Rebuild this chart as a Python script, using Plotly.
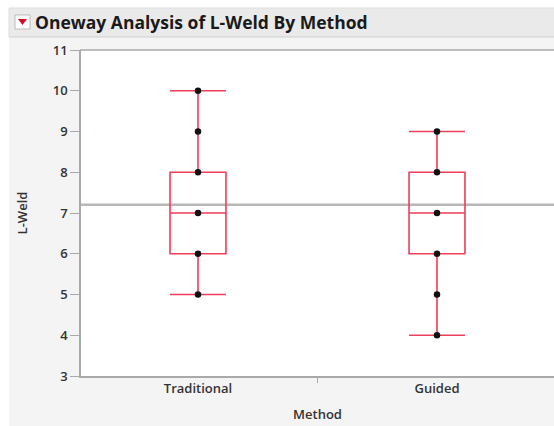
import plotly.graph_objects as go

# Oneway analysis: L-Weld by welding method
methods = ["Traditional", "Guided"]
trad_points = [5, 6, 7, 8, 9, 10]
guided_points = [4, 5, 6, 7, 8, 9]
# box statistics per method: lower fence, q1, median, q3, upper fence
lower_fence = [5, 4]
q1 = [6, 6]
median = [7, 7]
q3 = [8, 8]
upper_fence = [10, 9]
grand_mean = 7.2

W, H = 554, 426
L, R, T, B = 81, 0, 50, 50
PW, PH = W - L - R, H - T - B


def px(x):
    return (x - L) / PW


def py(y):
    return (H - B - y) / PH


BOX_RED = "#ee3e5a"
AXIS_GRAY = "#a9a9a9"
PANEL = "#f4f4f4"
TEXT = "#333333"
FONT = "Open Sans"

fig = go.Figure()


def panel_rect(x0, x1, y0, y1, fill, line=None):
    fig.add_shape(type="rect", xref="paper", yref="paper",
                  x0=px(x0), x1=px(x1), y0=py(y0), y1=py(y1),
                  fillcolor=fill, line=line or dict(width=0), layer="below")


# report panel around the plot frame (left, top gap, bottom)
panel_rect(9, 80, 37, H, PANEL)
panel_rect(9, W, 37, 50, PANEL)
panel_rect(9, W, 376, H, PANEL)
# title bar
panel_rect(9, W, 8, 37, "#eaeaea")
fig.add_shape(type="line", xref="paper", yref="paper",
              x0=px(9), x1=1, y0=py(37), y1=py(37),
              line=dict(color="#cfcfcf", width=1), layer="below")
fig.add_shape(type="line", xref="paper", yref="paper",
              x0=px(9), x1=1, y0=py(8), y1=py(8),
              line=dict(color="#dddddd", width=1), layer="below")
fig.add_shape(type="line", xref="paper", yref="paper",
              x0=px(9), x1=px(9), y0=py(8), y1=py(37),
              line=dict(color="#dddddd", width=1), layer="below")
# top border of the plot frame
fig.add_shape(type="line", xref="paper", yref="paper",
              x0=px(80), x1=1, y0=py(50), y1=py(50),
              line=dict(color=AXIS_GRAY, width=1.5), layer="below")
# grand mean reference line
fig.add_shape(type="line", xref="paper", yref="y", x0=0, x1=1,
              y0=grand_mean, y1=grand_mean,
              line=dict(color="#b8b8b8", width=2.5), layer="below")
# disclosure icon
fig.add_shape(type="rect", xref="paper", yref="paper",
              x0=px(15), x1=px(30), y0=py(15), y1=py(29),
              fillcolor="white", line=dict(color="#bbbbbb", width=1))
fig.add_shape(type="path", xref="paper", yref="paper",
              path="M {} {} L {} {} L {} {} Z".format(
                  px(18), py(19), px(27), py(19), px(22.5), py(25)),
              fillcolor="#d0102a", line_width=0)

for i, m in enumerate(methods):
    fig.add_trace(go.Box(
        x=[i], q1=[q1[i]], median=[median[i]], q3=[q3[i]],
        lowerfence=[lower_fence[i]], upperfence=[upper_fence[i]],
        width=0.234, whiskerwidth=1,
        fillcolor="rgba(255,255,255,0)",
        line=dict(color=BOX_RED, width=1.6),
        boxpoints=False, hoverinfo="skip", name=m,
    ))

for i, pts in enumerate([trad_points, guided_points]):
    fig.add_trace(go.Scatter(
        x=[i] * len(pts), y=pts, mode="markers",
        marker=dict(color="#111111", size=6.5),
        name=methods[i],
    ))

tick_font = dict(family=FONT, size=13, color=TEXT, weight=600)

fig.update_layout(
    width=W, height=H,
    margin=dict(l=L, r=R, t=T, b=B),
    paper_bgcolor="white", plot_bgcolor="white",
    showlegend=False,
    title=dict(text="<b>Oneway Analysis of L-Weld By Method</b>",
               x=35 / W, xanchor="left", y=1 - 22.5 / H, yanchor="middle",
               font=dict(family=FONT, size=17.5, color="#1a1a1a")),
    xaxis=dict(range=[-0.4895, 1.4895], tickvals=[0, 1], ticktext=methods,
               ticks="", showline=True, linecolor=AXIS_GRAY, linewidth=1.5,
               mirror=False, showgrid=False, zeroline=False,
               minor=dict(tickvals=[0.5], ticks="outside", ticklen=5,
                          tickcolor=AXIS_GRAY, showgrid=False),
               tickfont=tick_font,
               title=dict(text="Method", standoff=14, font=tick_font)),
    yaxis=dict(range=[3, 11], dtick=1, ticks="outside", ticklen=9,
               tickcolor=AXIS_GRAY, showline=True, linecolor=AXIS_GRAY,
               linewidth=1.5, showgrid=False, zeroline=False,
               tickfont=tick_font,
               title=dict(text="L-Weld", standoff=22, font=tick_font)),
)

fig.write_html("out.html")
